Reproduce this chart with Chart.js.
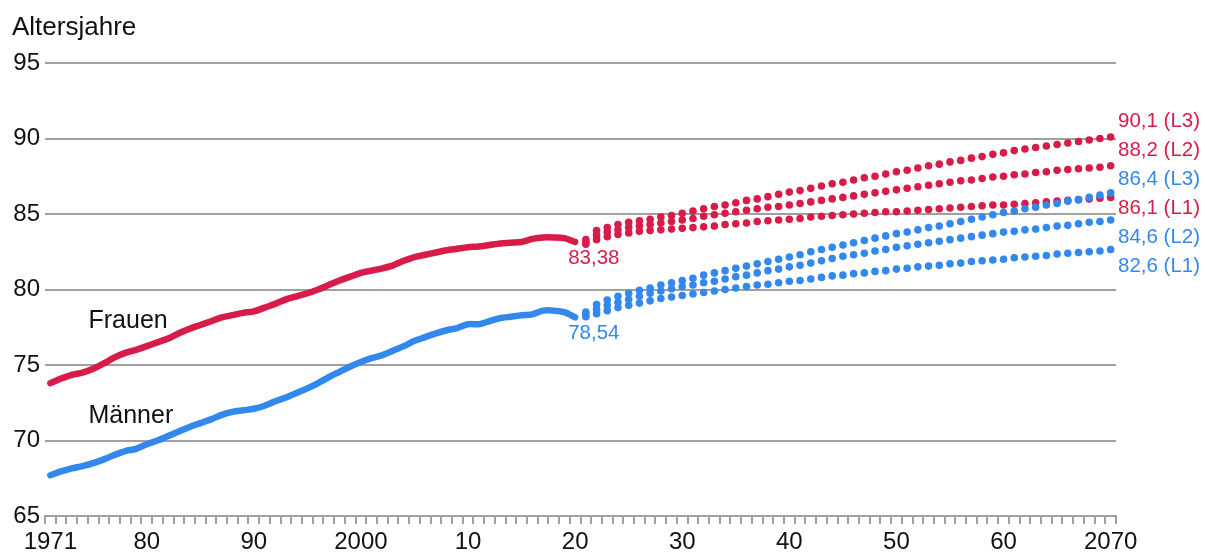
<!DOCTYPE html>
<html>
<head>
<meta charset="utf-8">
<script src="https://cdn.jsdelivr.net/npm/chart.js@4.4.1/dist/chart.umd.min.js"></script>
<style>
  html, body { margin: 0; padding: 0; background: #ffffff; }
  #wrap { width: 1205px; height: 556px; }
</style>
</head>
<body>
<div id="wrap"><canvas id="c" width="1205" height="556"></canvas></div>
<script>
// ---------- DATA ----------
const firstYear = 1971;
const lastYear = 2070;
const years = Array.from({ length: lastYear - firstYear + 1 }, (_, i) => String(firstYear + i));

const tickYears = [1971, 1980, 1990, 2000, 2010, 2020, 2030, 2040, 2050, 2060, 2070];
const tickTexts = ['1971', '80', '90', '2000', '10', '20', '30', '40', '50', '60', '2070'];

// Frauen 1971–2020 (observed)
const frauenHist = [73.8, 74.1, 74.35, 74.5, 74.75, 75.1, 75.5, 75.8, 76.0, 76.25,
  76.5, 76.75, 77.1, 77.4, 77.65, 77.9, 78.15, 78.3, 78.45, 78.55,
  78.8, 79.05, 79.35, 79.55, 79.75, 80.0, 80.3, 80.6, 80.85, 81.1,
  81.25, 81.4, 81.6, 81.9, 82.15, 82.3, 82.45, 82.6, 82.7, 82.8,
  82.85, 82.95, 83.05, 83.1, 83.15, 83.35, 83.45, 83.45, 83.4, 83.15];

// Männer 1971–2020 (observed)
const maennerHist = [67.7, 67.95, 68.15, 68.3, 68.5, 68.75, 69.05, 69.3, 69.45, 69.75,
  70.0, 70.3, 70.6, 70.9, 71.15, 71.4, 71.7, 71.9, 72.0, 72.1,
  72.3, 72.6, 72.85, 73.15, 73.45, 73.8, 74.2, 74.55, 74.9, 75.2,
  75.45, 75.65, 75.95, 76.25, 76.6, 76.85, 77.1, 77.3, 77.45, 77.7,
  77.7, 77.9, 78.1, 78.2, 78.3, 78.35, 78.6, 78.6, 78.5, 78.15];

// Projections 2021–2070
const frauenL1 = [83.0, 83.3, 83.5, 83.65, 83.75, 83.85, 83.9, 83.95, 84.0, 84.05,
  84.1, 84.15, 84.2, 84.3, 84.35, 84.4, 84.5, 84.55, 84.6, 84.65,
  84.7, 84.8, 84.85, 84.9, 84.95, 85.0, 85.05, 85.1, 85.15, 85.15,
  85.2, 85.25, 85.3, 85.35, 85.4, 85.45, 85.5, 85.55, 85.6, 85.6,
  85.65, 85.7, 85.75, 85.8, 85.85, 85.9, 85.95, 86.0, 86.05, 86.1];
const frauenL2 = [83.15, 83.6, 83.8, 83.95, 84.1, 84.2, 84.3, 84.4, 84.5, 84.6,
  84.7, 84.85, 84.95, 85.05, 85.15, 85.25, 85.35, 85.45, 85.5, 85.6,
  85.7, 85.8, 85.9, 86.0, 86.1, 86.2, 86.3, 86.4, 86.5, 86.6,
  86.7, 86.8, 86.9, 87.0, 87.1, 87.2, 87.25, 87.35, 87.45, 87.5,
  87.6, 87.65, 87.75, 87.8, 87.9, 87.95, 88.0, 88.05, 88.1, 88.2];
const frauenL3 = [83.3, 83.9, 84.1, 84.3, 84.45, 84.55, 84.65, 84.8, 84.9, 85.05,
  85.2, 85.35, 85.5, 85.6, 85.75, 85.9, 86.0, 86.15, 86.3, 86.45,
  86.55, 86.7, 86.85, 87.0, 87.1, 87.25, 87.4, 87.5, 87.65, 87.8,
  87.9, 88.05, 88.2, 88.3, 88.45, 88.55, 88.7, 88.8, 88.95, 89.05,
  89.2, 89.3, 89.4, 89.5, 89.6, 89.7, 89.8, 89.9, 90.0, 90.1];

const maennerL1 = [78.2, 78.4, 78.6, 78.8, 78.95, 79.1, 79.25, 79.4, 79.5, 79.6,
  79.7, 79.8, 79.9, 80.0, 80.1, 80.2, 80.3, 80.35, 80.45, 80.55,
  80.6, 80.7, 80.8, 80.9, 80.95, 81.05, 81.1, 81.2, 81.25, 81.35,
  81.4, 81.5, 81.55, 81.6, 81.7, 81.75, 81.85, 81.9, 81.95, 82.0,
  82.1, 82.15, 82.2, 82.25, 82.35, 82.4, 82.45, 82.5, 82.55, 82.65];
const maennerL2 = [78.35, 78.7, 78.95, 79.15, 79.35, 79.55, 79.75, 79.9, 80.05, 80.2,
  80.3, 80.45, 80.55, 80.7, 80.85, 80.95, 81.1, 81.25, 81.35, 81.5,
  81.6, 81.75, 81.9, 82.05, 82.2, 82.3, 82.4, 82.55, 82.65, 82.8,
  82.9, 83.0, 83.1, 83.2, 83.3, 83.4, 83.5, 83.6, 83.7, 83.8,
  83.85, 83.95, 84.0, 84.1, 84.2, 84.25, 84.35, 84.45, 84.5, 84.6];
const maennerL3 = [78.5, 79.0, 79.3, 79.55, 79.75, 79.95, 80.1, 80.3, 80.45, 80.6,
  80.75, 80.95, 81.1, 81.25, 81.4, 81.55, 81.7, 81.85, 82.0, 82.15,
  82.3, 82.5, 82.65, 82.8, 82.95, 83.1, 83.25, 83.4, 83.55, 83.7,
  83.8, 83.95, 84.1, 84.2, 84.35, 84.5, 84.65, 84.8, 84.95, 85.1,
  85.2, 85.35, 85.45, 85.6, 85.7, 85.85, 85.95, 86.1, 86.25, 86.4];

const baseLabels = ['83,38', '78,54'];
const endLabels = ['90,1 (L3)', '88,2 (L2)', '86,4 (L3)', '86,1 (L1)', '84,6 (L2)', '82,6 (L1)'];
const endLabelSeries = ['f', 'f', 'm', 'f', 'm', 'm'];

// ---------- STYLE ----------
const RED = '#d81c4a';
const BLUE = '#3388ee';
const GRID = '#a0a0a0';
const TEXT = '#111111';
const FONT = '"Liberation Sans", Arial, sans-serif';

const nHist = frauenHist.length;
const nProj = frauenL1.length;
const padHist = arr => arr.concat(new Array(nProj).fill(null));
const padProj = arr => new Array(nHist).fill(null).concat(arr);

function lineDs(data, color, order) {
  return {
    data: padHist(data), borderColor: color, borderWidth: 6.5, pointRadius: 0,
    tension: 0.3, borderCapStyle: 'round', borderJoinStyle: 'round', fill: false,
    spanGaps: false, order
  };
}
function dotDs(data, color, order) {
  return {
    data: padProj(data), showLine: false, pointRadius: 3.8, pointBorderWidth: 0,
    pointBackgroundColor: color, pointBorderColor: color, borderColor: color, order
  };
}

const textPlugin = {
  id: 'texts',
  afterDatasetsDraw(chart) {
    const ctx = chart.ctx;
    const xs = chart.scales.x, ys = chart.scales.y, ca = chart.chartArea;
    ctx.save();
    ctx.textBaseline = 'middle';
    ctx.textAlign = 'left';
    ctx.fillStyle = TEXT;
    ctx.font = '26px ' + FONT;
    ctx.fillText('Altersjahre', 12, 28);
    ctx.font = '25px ' + FONT;
    ctx.fillText('Frauen', xs.getPixelForValue(3) + 6, ys.getPixelForValue(77.9));
    ctx.fillText('Männer', xs.getPixelForValue(3) + 6, ys.getPixelForValue(71.6));

    ctx.font = '20.5px ' + FONT;
    ctx.textAlign = 'center';
    const bx = xs.getPixelForValue(nHist) + 8;
    ctx.fillStyle = RED;
    ctx.fillText(baseLabels[0], bx, ys.getPixelForValue(82.05));
    ctx.fillStyle = BLUE;
    ctx.fillText(baseLabels[1], bx, ys.getPixelForValue(77.12));

    ctx.textAlign = 'left';
    const top = ys.getPixelForValue(frauenL3[nProj - 1]) - 15.5;
    endLabels.forEach((t, i) => {
      ctx.fillStyle = endLabelSeries[i] === 'f' ? RED : BLUE;
      ctx.fillText(t, ca.right + 2, top + i * 28.9);
    });
    ctx.restore();
  }
};

new Chart(document.getElementById('c'), {
  type: 'line',
  data: {
    labels: years,
    datasets: [
      lineDs(frauenHist, RED, 2),
      dotDs(frauenL1, RED, 2),
      dotDs(frauenL2, RED, 2),
      dotDs(frauenL3, RED, 2),
      lineDs(maennerHist, BLUE, 1),
      dotDs(maennerL1, BLUE, 1),
      dotDs(maennerL2, BLUE, 1),
      dotDs(maennerL3, BLUE, 1)
    ]
  },
  options: {
    responsive: false,
    animation: false,
    devicePixelRatio: 1,
    layout: { padding: { top: 63, right: 89, left: 0, bottom: 0 } },
    plugins: { legend: { display: false }, tooltip: { enabled: false } },
    scales: {
      x: {
        type: 'category',
        offset: true,
        grid: { display: true, drawOnChartArea: false, drawTicks: true, tickLength: 8, offset: true, color: GRID, lineWidth: 2 },
        border: { display: true, color: GRID, width: 2 },
        ticks: {
          autoSkip: false, maxRotation: 0, minRotation: 0, padding: 4,
          color: TEXT, font: { size: 24, family: FONT },
          callback: (v, i) => { const k = tickYears.indexOf(firstYear + i); return k >= 0 ? tickTexts[k] : ''; }
        },
        afterFit(s) { s.height = 40; }
      },
      y: {
        min: 65, max: 95,
        grid: { color: GRID, lineWidth: 2, drawTicks: false },
        border: { display: false },
        ticks: { stepSize: 5, padding: 5, color: TEXT, font: { size: 24, family: FONT } },
        afterFit(s) { s.width = 45; }
      }
    }
  },
  plugins: [textPlugin]
});
</script>
</body>
</html>
